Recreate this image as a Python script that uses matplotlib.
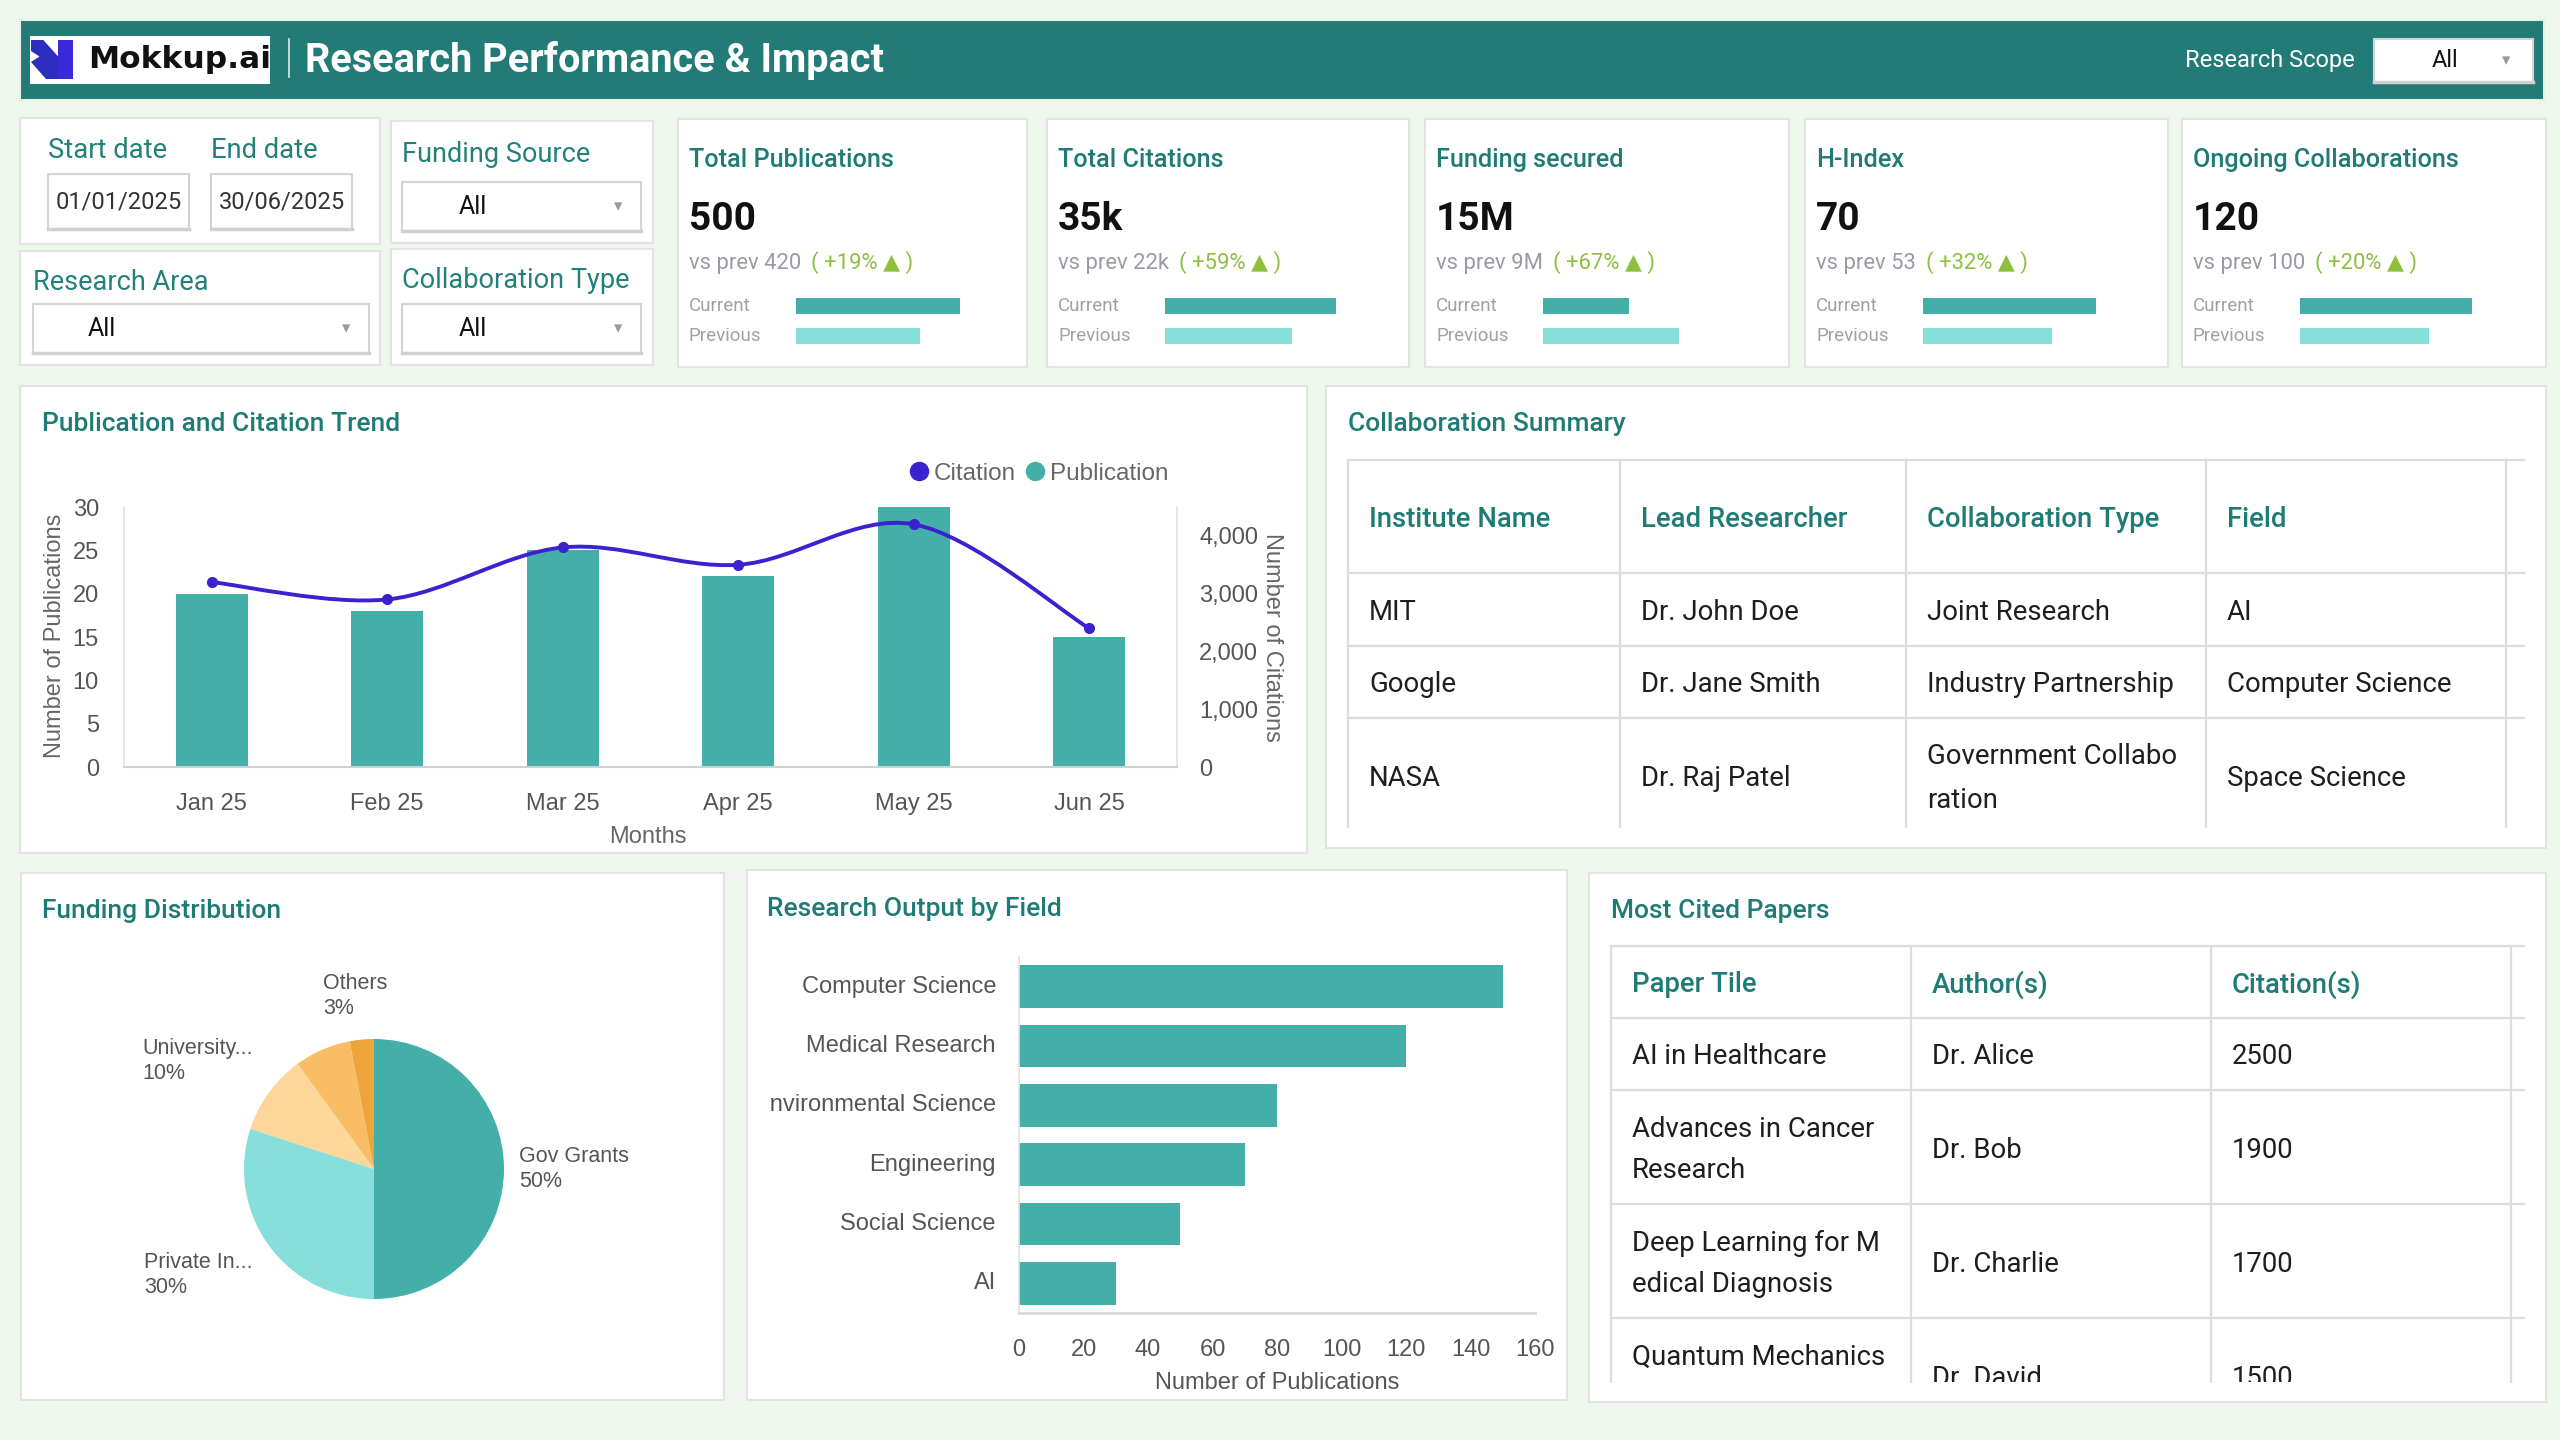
import matplotlib
matplotlib.use("Agg")
import matplotlib.pyplot as plt
from matplotlib.patches import Rectangle, Polygon, PathPatch
from matplotlib.path import Path
from matplotlib.lines import Line2D
from matplotlib.transforms import Bbox, TransformedBbox
from matplotlib.ticker import FuncFormatter

plt.rcParams['font.family'] = ['Roboto', 'DejaVu Sans']

W, H = 2560, 1440

# ---------------- data ----------------
months = ["Jan 25", "Feb 25", "Mar 25", "Apr 25", "May 25", "Jun 25"]
publications = [20, 18, 25, 22, 30, 15]
citations = [3200, 2900, 3800, 3500, 4200, 2400]

kpi_titles = ["Total Publications", "Total Citations", "Funding secured", "H-Index", "Ongoing Collaborations"]
kpi_values = ["500", "35k", "15M", "70", "120"]
kpi_prev = ["420", "22k", "9M", "53", "100"]
kpi_change = ["+19%", "+59%", "+67%", "+32%", "+20%"]
kpi_bar_current = [164, 171, 86, 173, 172]
kpi_bar_previous = [124, 127, 136, 129, 129]

funding_labels = ["Gov Grants", "Private In...", "University...", "", "Others"]
funding_share = [50, 30, 10, 7, 3]

fields = ["Computer Science", "Medical Research", "Environmental Science", "Engineering", "Social Science", "AI"]
field_pubs = [150, 120, 80, 70, 50, 30]

collab_cols = ["Institute Name", "Lead Researcher", "Collaboration Type", "Field"]
collab_institutes = ["MIT", "Google", "NASA"]
collab_leads = ["Dr. John Doe", "Dr. Jane Smith", "Dr. Raj Patel"]
collab_types = ["Joint Research", "Industry Partnership", "Government Collabo\nration"]
collab_fields = ["AI", "Computer Science", "Space Science"]

paper_cols = ["Paper Tile", "Author(s)", "Citation(s)"]
paper_titles = ["AI in Healthcare", "Advances in Cancer\nResearch", "Deep Learning for M\nedical Diagnosis", "Quantum Mechanics\n"]
paper_authors = ["Dr. Alice", "Dr. Bob", "Dr. Charlie", "Dr. David"]
paper_citations = ["2500", "1900", "1700", "1500"]

filter_labels = ["Start date", "End date", "Funding Source", "Research Area", "Collaboration Type"]
filter_dates = ["01/01/2025", "30/06/2025"]

# ---------------- styles ----------------
BG = "#EEF7EC"
HEADER = "#237B77"
TEAL_T = "#1E7B76"
BAR = "#44AFA9"
BAR_L = "#86DFDA"
LINE = "#3A22D1"
GREEN = "#8DC03F"
BORDER = "#E3E3E3"
GRID = "#DCDCDC"
CHART_FONT = ['Liberation Sans', 'DejaVu Sans']

fig = plt.figure(figsize=(W / 100, H / 100), dpi=100, facecolor=BG)
bg = fig.add_axes([0, 0, 1, 1])
bg.set_xlim(0, W)
bg.set_ylim(H, 0)
bg.axis('off')
bg.set_zorder(-1)


def px_axes(x0, y0, x1, y1):
    return fig.add_axes([x0 / W, 1 - y1 / H, (x1 - x0) / W, (y1 - y0) / H])


def panel(x0, y0, x1, y1, fc="white", ec=BORDER, lw=1.5):
    bg.add_patch(Rectangle((x0, y0), x1 - x0, y1 - y0, facecolor=fc, edgecolor=ec, lw=lw, zorder=1))


def txt(x, y, s, size, color="#222222", weight="normal", ha="left", va="center", **kw):
    return bg.text(x, y, s, fontsize=size, color=color, fontweight=weight, ha=ha, va=va, zorder=5, **kw)


def clipbox(ymax_px=None, xmin_px=None):
    y0 = 0 if ymax_px is None else 1 - ymax_px / H
    x0 = 0 if xmin_px is None else xmin_px / W
    return TransformedBbox(Bbox([[x0, y0], [1, 1]]), fig.transFigure)


def dropdown(x0, y0, x1, y1, text_x, arrow_x, size=18):
    bg.add_patch(Rectangle((x0, y0), x1 - x0, y1 - y0, facecolor="white", edgecolor="#D4D4D4", lw=1.5, zorder=3))
    bg.plot([x0, x1], [y1, y1], color="#D0D0D0", lw=2.5, zorder=4)
    yc = (y0 + y1) / 2
    txt(text_x, yc, "All", size, color="#111111", ha="center")
    txt(arrow_x, yc, "▾", 12, color="#9A9A9A", ha="center")


# ---------------- header ----------------
panel(20, 20, 2544, 100, fc=HEADER, ec="#E8EFE8")
bg.add_patch(Rectangle((30, 36), 240, 48, facecolor="white", edgecolor="none", zorder=3))
bg.add_patch(Polygon([(31, 40), (43.3, 40), (58.3, 56.7), (58.3, 79), (46, 79), (31, 62), (39.5, 56.5), (31, 51)],
                     closed=True, facecolor="#2D2DBF", edgecolor="none", zorder=4))
bg.add_patch(Polygon([(58.3, 40), (73.3, 40), (73.3, 79), (58.3, 79)], closed=True,
                     facecolor="#3A2BD6", edgecolor="none", zorder=4))
txt(88, 59, "Mokkup.ai", 22.5, color="#111111", weight="bold", family=['DejaVu Sans'])
bg.plot([289, 289], [39, 77], color="#DDEEEE", lw=1.2, zorder=4)
txt(305, 61, "Research Performance & Impact", 28.5, color="white", weight="bold")
txt(2355, 60, "Research Scope", 17, color="white", ha="right")
dropdown(2374, 39, 2533, 82, 2445, 2506, size=17)

# ---------------- filters ----------------
panel(20, 118, 380, 244)
panel(391, 121, 653, 243)
panel(20, 251, 380, 365)
panel(391, 249, 653, 365)
txt(48, 150, filter_labels[0], 19.7, color="#23807A")
txt(211, 150, filter_labels[1], 19.7, color="#23807A")
for i, (bx, d) in enumerate(zip([48, 211], filter_dates)):
    bg.add_patch(Rectangle((bx, 174), 141, 55, facecolor="white", edgecolor="#D4D4D4", lw=1.5, zorder=3))
    bg.plot([bx, bx + 141], [229, 229], color="#D0D0D0", lw=2.5, zorder=4)
    txt(bx + 70.5, 202, d, 17, color="#333333", ha="center")
txt(402, 154, filter_labels[2], 19.5, color="#23807A")
dropdown(402, 182, 641, 231, 473, 618)
txt(33, 283, filter_labels[3], 19.5, color="#23807A")
dropdown(33, 304, 369, 353, 102, 346)
txt(402, 281, filter_labels[4], 19.5, color="#23807A")
dropdown(402, 304, 641, 353, 473, 618)

# ---------------- KPI cards ----------------
card_x = [(678, 1027), (1047, 1409), (1425, 1789), (1805, 2168), (2182, 2546)]
for i, (x0, x1) in enumerate(card_x):
    panel(x0, 119, x1, 367)
    txt(x0 + 11, 160, kpi_titles[i], 18.2, color=TEAL_T, weight="medium")
    txt(x0 + 11, 219, kpi_values[i], 28, color="#111111", weight="bold")
    g = txt(x0 + 11, 263, "vs prev " + kpi_prev[i], 15.8, color="#9A9AA6")
    bg.annotate("( " + kpi_change[i] + " ▲ )", xy=(1, 0.5), xycoords=g, xytext=(10, 0),
                textcoords="offset pixels", va="center", ha="left", fontsize=15.8, color=GREEN, zorder=5)
    txt(x0 + 11, 306, "Current", 13.5, color="#A0A0AA")
    txt(x0 + 11, 336, "Previous", 13.5, color="#A0A0AA")
    mx = px_axes(x0 + 118, 291, x0 + 318, 351)
    mx.barh([0, 1], [kpi_bar_current[i], kpi_bar_previous[i]], height=0.53, color=[BAR, BAR_L])
    mx.set_xlim(0, 200)
    mx.set_ylim(1.5, -0.5)
    mx.axis('off')

# ---------------- Publication and Citation Trend ----------------
panel(20, 386, 1307, 853)
txt(42, 424, "Publication and Citation Trend", 19, color=TEAL_T, weight="medium")
ax1 = px_axes(124, 507, 1177, 767)
ax1.set_facecolor("none")
x = list(range(len(months)))
ax1.bar(x, publications, width=0.41, color=BAR, zorder=2)
ax1.set_xlim(-0.5, len(months) - 0.5)
ax1.set_ylim(0, 30)
ax1.set_yticks(range(0, 31, 5))
ax1.set_xticks(x, months)
ax1.tick_params(axis='both', length=0, labelsize=17, labelcolor="#555555")
ax1.tick_params(axis='y', pad=18)
ax1.tick_params(axis='x', pad=19)
for lb in ax1.get_xticklabels() + ax1.get_yticklabels():
    lb.set_family(CHART_FONT)
ax1.spines["top"].set_visible(False)
ax1.spines["left"].set_color("#E2E2E2")
ax1.spines["right"].set_color("#E2E2E2")
ax1.spines["bottom"].set_color("#CFCFCF")
ax1.spines["left"].set_linewidth(1.2)
ax1.spines["right"].set_linewidth(1.2)
ax1.spines["bottom"].set_linewidth(1.5)

ax2 = ax1.twinx()
ax2.set_ylim(0, 4500)
ax2.set_yticks(range(0, 4001, 1000))
ax2.yaxis.set_major_formatter(FuncFormatter(lambda v, p: f"{int(v):,}"))
ax2.tick_params(axis='y', length=0, labelsize=17, labelcolor="#555555", pad=16)
for lb in ax2.get_yticklabels():
    lb.set_family(CHART_FONT)
for s in ["top", "left", "bottom", "right"]:
    ax2.spines[s].set_visible(False)

# smooth line through citation points as cubic Bezier segments
n = len(citations)
verts = [(x[0], citations[0])]
codes = [Path.MOVETO]
for i in range(n - 1):
    pm = (x[max(i - 1, 0)], citations[max(i - 1, 0)])
    p0 = (x[i], citations[i])
    p1 = (x[i + 1], citations[i + 1])
    p2 = (x[min(i + 2, n - 1)], citations[min(i + 2, n - 1)])
    c1 = (p0[0] + (p1[0] - pm[0]) / 6, p0[1] + (p1[1] - pm[1]) / 6)
    c2 = (p1[0] - (p2[0] - p0[0]) / 6, p1[1] - (p2[1] - p0[1]) / 6)
    verts += [c1, c2, p1]
    codes += [Path.CURVE4] * 3
ax2.add_patch(PathPatch(Path(verts, codes), fill=False, edgecolor=LINE, lw=2.8, zorder=3))
ax2.plot(x, citations, 'o', ms=7, color=LINE, zorder=4)
ax2.set_ylim(0, 4500)

txt(55, 636, "Number of Publications", 17, color="#666666", ha="center", rotation=90, family=CHART_FONT)
txt(1272, 637, "Number of Citations", 17, color="#666666", ha="center", rotation=-90, family=CHART_FONT)
txt(648, 837, "Months", 17, color="#666666", ha="center", family=CHART_FONT)
fig.legend(handles=[Line2D([], [], ls="none", marker="o", ms=13, color=LINE, label="Citation"),
                    Line2D([], [], ls="none", marker="o", ms=13, color=BAR, label="Publication")],
           loc="center right", bbox_to_anchor=(1168 / W, 1 - 474 / H), ncol=2, frameon=False,
           handlelength=0.6, handletextpad=0.3, columnspacing=0.5,
           prop={'family': CHART_FONT, 'size': 17.5}, labelcolor="#666666", borderaxespad=0, borderpad=0)

# ---------------- tables ----------------
panel(1326, 386, 2546, 848)
txt(1348, 424, "Collaboration Summary", 19, color=TEAL_T, weight="medium")


def draw_table(cols_x, line_end, row_edges, clip_y, header, rows, lsp):
    top = row_edges[0]
    for yy in row_edges:
        bg.plot([cols_x[0], line_end], [yy, yy], color=GRID, lw=1.6, zorder=3)
    for xx in cols_x:
        bg.plot([xx, xx], [top, clip_y], color=GRID, lw=1.6, zorder=3)
    hy = (row_edges[0] + row_edges[1]) / 2 + 3
    for j, h in enumerate(header):
        txt(cols_x[j] + 21, hy, h, 19.8, color=TEAL_T, weight="medium")
    for r, row in enumerate(rows):
        ytop = row_edges[r + 1]
        ybot = row_edges[r + 2] if r + 2 < len(row_edges) else None
        for j, cell in enumerate(row):
            lines = cell.split("\n")
            nl = len(lines)
            rh = (ybot - ytop) if ybot is not None else 114
            yc = ytop + rh / 2 + 3
            for k, ln in enumerate(lines):
                yy = yc + (k - (nl - 1) / 2) * lsp
                t = txt(cols_x[j] + 21, yy, ln, 19.8, color="#1E1E1E")
                t.set_clip_box(clipbox(ymax_px=clip_y))
                t.set_clip_on(True)


collab_rows = list(zip(collab_institutes, collab_leads, collab_types, collab_fields))
draw_table([1348, 1620, 1906, 2206, 2506], 2524, [460, 573, 646, 718], 827, collab_cols, collab_rows, 44)

# ---------------- Funding Distribution pie ----------------
panel(21, 873, 724, 1400)
txt(42, 911, "Funding Distribution", 19, color=TEAL_T, weight="medium")
axp = px_axes(374 - 260, 1169 - 260, 374 + 260, 1169 + 260)
pie_labels = [f"{l}\n{s}%" if l else "" for l, s in zip(funding_labels, funding_share)]
wedges, texts = axp.pie(funding_share, labels=pie_labels, colors=[BAR, BAR_L, "#FDD699", "#F9BD65", "#EDA43A"],
                        startangle=90, counterclock=False, radius=1, labeldistance=1.2,
                        textprops=dict(color="#555555", fontsize=15.5, family=CHART_FONT, linespacing=1.25),
                        wedgeprops=dict(linewidth=0))
# label anchors (in pie radius units) and alignment, as placed in the reference
label_layout = [((1.115, 0.0), "left"), ((-0.93, -0.815), "right"), ((-0.93, 0.83), "right"),
                ((0.0, 1.2), "center"), ((-0.39, 1.33), "left")]
for t, (pos, ha) in zip(texts, label_layout):
    t.set_position(pos)
    t.set_ha(ha)
    t.set_multialignment("left")
axp.set_xlim(-2, 2)
axp.set_ylim(-2, 2)
axp.set_aspect("equal")

# ---------------- Research Output by Field ----------------
panel(747, 870, 1567, 1400)
txt(767, 909, "Research Output by Field", 19, color=TEAL_T, weight="medium")
axb = px_axes(1019, 957, 1535, 1313)
axb.set_facecolor("none")
yy = list(range(len(fields)))
axb.barh(yy, field_pubs, height=0.72, color=BAR, zorder=2)
axb.set_ylim(len(fields) - 0.5, -0.5)
axb.set_xlim(0, 160)
axb.set_xticks(range(0, 161, 20))
axb.set_yticks(yy, [""] * len(fields))
axb.tick_params(axis='both', length=0, labelsize=17, labelcolor="#555555")
axb.tick_params(axis='x', pad=19)
for lb in axb.get_xticklabels():
    lb.set_family(CHART_FONT)
for i, f in enumerate(fields):
    t = axb.annotate(f, xy=(0, i), xycoords=("axes fraction", "data"), xytext=(-23, 0),
                     textcoords="offset pixels", ha="right", va="center", fontsize=17,
                     color="#555555", family=CHART_FONT, annotation_clip=False)
    t.set_clip_box(clipbox(xmin_px=769))
    t.set_clip_on(True)
axb.spines["top"].set_visible(False)
axb.spines["right"].set_visible(False)
axb.spines["left"].set_color("#E2E2E2")
axb.spines["left"].set_linewidth(1.2)
axb.spines["bottom"].set_color("#DADADA")
axb.spines["bottom"].set_linewidth(2)
txt(1277, 1383, "Number of Publications", 17, color="#555555", ha="center", family=CHART_FONT)

# ---------------- Most Cited Papers table ----------------
panel(1589, 873, 2546, 1402)
txt(1611, 911, "Most Cited Papers", 19, color=TEAL_T, weight="medium")
paper_rows = list(zip(paper_titles, paper_authors, paper_citations))
draw_table([1611, 1911, 2211, 2511], 2524, [946, 1018, 1090, 1204, 1318], 1382, paper_cols, paper_rows, 41)

fig.savefig("out.png", dpi=100, facecolor=BG)
